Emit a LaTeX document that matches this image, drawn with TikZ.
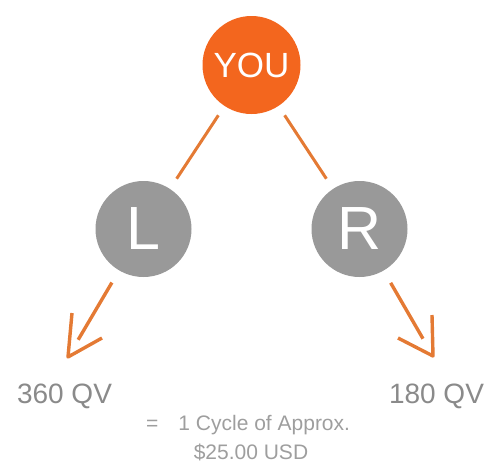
\documentclass[tikz,border=0pt]{standalone}
\usepackage{fontspec}
\setmainfont{Liberation Sans}
\definecolor{youorange}{RGB}{243,102,30}
\definecolor{lineorange}{RGB}{228,122,52}
\definecolor{nodegray}{RGB}{153,153,153}
\definecolor{qvgray}{RGB}{138,138,138}
\definecolor{notegray}{RGB}{158,158,158}
\tikzset{
  bigcirc/.style={circle, inner sep=0pt, minimum size=#1, text=white},
  youbox/.style={bigcirc=98pt, fill=youorange, font=\fontsize{35}{40}\selectfont},
  legbox/.style={bigcirc=96pt, fill=nodegray, font=\fontsize{61}{70}\selectfont},
  link/.style={draw=lineorange, line width=3pt, shorten <=11pt, shorten >=12pt},
  shaft/.style={draw=lineorange, line width=3.4pt, shorten <=14pt, shorten >=20pt},
  barb/.style={draw=lineorange, line width=3.4pt, line join=round},
  qv/.style={text=qvgray, anchor=base, inner sep=0pt, font=\fontsize{28}{32}\selectfont},
  note/.style={text=notegray, inner sep=0pt, font=\fontsize{21}{25}\selectfont}
}
\begin{document}
\begin{tikzpicture}[x=1pt, y=-1pt]
\useasboundingbox (0,0) rectangle (492,466);
\node[youbox] (you) at (251.5,65) {YOU};
\node[legbox] (l) at (143.5,229) {L};
\node[legbox] (r) at (359.5,229) {R};
\draw[link] (you) -- (l);
\draw[link] (you) -- (r);
\coordinate (tipl) at (68,357);
\coordinate (tipr) at (433,356);
\draw[shaft] (l) -- (tipl);
\draw[shaft] (r) -- (tipr);
\draw[barb] (tipl) ++(4,-44) -- (tipl) -- ++(34,-19);
\draw[barb] (tipr) ++(-1,-41) -- (tipr) -- ++(-35,-18);
\node[qv] (qvl) at (64.5,403) {360 QV};
\node[qv] (qvr) at (436.5,403) {180 QV};
\node[note, anchor=base west] (cyc) at (146,430) {=\hspace{20pt}1 Cycle of Approx.};
\node[note, anchor=base] (usd) at (251,459) {\$25.00 USD};
\end{tikzpicture}
\end{document}
